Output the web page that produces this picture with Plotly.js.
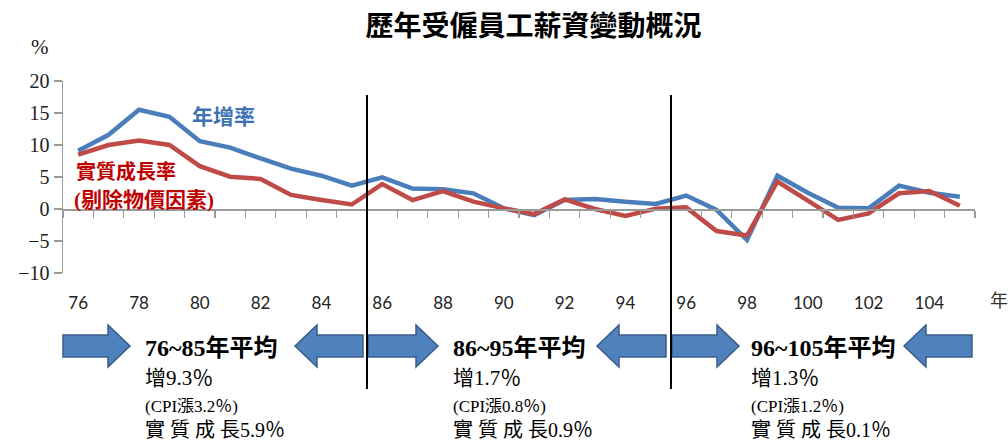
<!DOCTYPE html>
<html>
<head>
<meta charset="utf-8">
<script src="https://cdn.plot.ly/plotly-3.0.1.min.js"></script>
<style>html,body{margin:0;padding:0;background:#fff;}#chart{width:1008px;height:444px;}</style>
</head>
<body>
<div id="chart"></div>
<script>
// ---- data ----
var years = [76,77,78,79,80,81,82,83,84,85,86,87,88,89,90,91,92,93,94,95,96,97,98,99,100,101,102,103,104,105];
var wageGrowth = [9.1,11.6,15.5,14.4,10.6,9.6,7.9,6.3,5.2,3.65,4.95,3.2,3.1,2.45,0.1,-0.95,1.4,1.55,1.15,0.8,2.1,-0.15,-4.85,5.2,2.55,0.2,0.1,3.65,2.55,1.9];
var realGrowth = [8.5,10.0,10.7,10.0,6.7,5.05,4.7,2.2,1.4,0.7,3.9,1.4,2.8,1.15,0.1,-0.8,1.5,0.0,-1.1,0.05,0.25,-3.45,-4.15,4.3,1.3,-1.7,-0.7,2.45,2.8,0.5];
var tickVals = [76,78,80,82,84,86,88,90,92,94,96,98,100,102,104];
var tickLabels = ['76','78','80','82','84','86','88','90','92','94','96','98','100','102','104'];
var yTickVals = [-10,-5,0,5,10,15,20];
var periodBreaks = [85.5, 95.5];
var periodTitles = ['76~85年平均','86~95年平均','96~105年平均'];
var periodGrowth = ['增9.3％','增1.7％','增1.3％'];
var periodCPI = ['(CPI漲3.2％)','(CPI漲0.8％)','(CPI漲1.2％)'];
var periodReal = ['實 質 成 長5.9％','實 質 成 長0.9％','實 質 成 長0.1％'];

// ---- layout helpers (pixel -> paper) ----
var L = 63, R = 33, T = 81, B = 171, W = 1008, H = 444;
var PW = W - L - R, PH = H - T - B;
function px(x){ return (x - L) / PW; }
function py(y){ return (H - B - y) / PH; }

function arrowPath(x0, x1, dir){
  var ym = 346, bh = 11, hh = 21, hl = 22;
  var pts;
  if (dir > 0) {
    var xh = x1 - hl;
    pts = [[x0,ym-bh],[xh,ym-bh],[xh,ym-hh],[x1,ym],[xh,ym+hh],[xh,ym+bh],[x0,ym+bh]];
  } else {
    var xh2 = x0 + hl;
    pts = [[x1,ym-bh],[xh2,ym-bh],[xh2,ym-hh],[x0,ym],[xh2,ym+hh],[xh2,ym+bh],[x1,ym+bh]];
  }
  return 'M' + pts.map(function(p){ return px(p[0]).toFixed(5) + ',' + py(p[1]).toFixed(5); }).join(' L') + ' Z';
}

var arrows = [[63,130,1],[295,363,-1],[368,438,1],[597,666,-1],[672,739,1],[904,972,-1]];
var shapes = arrows.map(function(a){
  return {type:'path', xref:'paper', yref:'paper', path: arrowPath(a[0],a[1],a[2]),
          fillcolor:'#4F81BD', line:{color:'#385D8A', width:1.5}, layer:'above'};
});
periodBreaks.forEach(function(b){
  shapes.push({type:'line', xref:'x', yref:'paper', x0:b, x1:b, y0:py(95), y1:py(389),
               line:{color:'#000', width:2}});
});

var serif = 'Liberation Serif, Noto Sans CJK TC, serif';
var cjk = 'Noto Sans CJK TC, sans-serif';
var annotations = [
  {text:'%', xref:'paper', yref:'paper', x:px(40), y:py(47), showarrow:false, xanchor:'center', yanchor:'middle', font:{family:serif, size:21, color:'#222'}},
  {text:'年', xref:'paper', yref:'paper', x:px(988), y:py(299), showarrow:false, xanchor:'left', yanchor:'middle', font:{family:cjk, size:18, color:'#333'}},
  {text:'<b>年增率</b>', xref:'paper', yref:'paper', x:px(223), y:py(115), showarrow:false, xanchor:'center', yanchor:'middle', font:{family:cjk, size:21, color:'#3F72B5'}},
  {text:'<b>實質成長率</b>', xref:'paper', yref:'paper', x:px(74), y:py(170), showarrow:false, xanchor:'left', yanchor:'middle', font:{family:cjk, size:20, color:'#C00000'}},
  {text:'<b>(剔除物價因素)</b>', xref:'paper', yref:'paper', x:px(72), y:py(200), showarrow:false, xanchor:'left', yanchor:'middle', font:{family:serif, size:21, color:'#C00000'}}
];
var blockX = [143, 451, 749];
for (var i = 0; i < 3; i++) {
  annotations.push({text:'<b>'+periodTitles[i]+'</b>', xref:'paper', yref:'paper', x:px(blockX[i]), y:py(348), showarrow:false, xanchor:'left', yanchor:'middle', font:{family:serif, size:24, color:'#000'}});
  annotations.push({text:periodGrowth[i], xref:'paper', yref:'paper', x:px(blockX[i]), y:py(378), showarrow:false, xanchor:'left', yanchor:'middle', font:{family:serif, size:21, color:'#000'}});
  annotations.push({text:periodCPI[i], xref:'paper', yref:'paper', x:px(blockX[i]), y:py(406), showarrow:false, xanchor:'left', yanchor:'middle', font:{family:serif, size:17, color:'#000'}});
  annotations.push({text:periodReal[i], xref:'paper', yref:'paper', x:px(blockX[i]), y:py(430), showarrow:false, xanchor:'left', yanchor:'middle', font:{family:serif, size:20, color:'#000'}});
}

var traces = [
  {x: years, y: wageGrowth, type:'scatter', mode:'lines', name:'年增率', line:{color:'#4A7EBB', width:4.5}, xaxis:'x', yaxis:'y'},
  {x: years, y: realGrowth, type:'scatter', mode:'lines', name:'實質成長率', line:{color:'#BE4B48', width:4.5}, xaxis:'x', yaxis:'y'},
  {x: [years[0]], y: [null], type:'scatter', mode:'lines', showlegend:false, hoverinfo:'skip', xaxis:'x2', yaxis:'y'}
];

var layout = {
  width: W, height: H,
  margin: {l:L, r:R, t:T, b:B, pad:0},
  paper_bgcolor:'#fff', plot_bgcolor:'rgba(0,0,0,0)',
  showlegend:false,
  title: {text:'<b>歷年受僱員工薪資變動概況</b>', x:520/W, xanchor:'center', xref:'paper', y:1-26/H, yanchor:'middle', yref:'container',
          font:{family:cjk, size:28, color:'#000'}},
  xaxis: {range:[75.5,105.5], tickmode:'array', tickvals:tickVals, ticktext:tickLabels,
          showline:false, showgrid:false, zeroline:false,
          ticks:'outside', ticklen:15, tickcolor:'rgba(0,0,0,0)',
          tickfont:{family:'Lato, Liberation Sans, sans-serif', size:17, color:'#222'}},
  xaxis2: {overlaying:'x', anchor:'free', position:1/3, range:[75.5,105.5], matches:'x',
           showline:true, linecolor:'#9a9a9a', linewidth:1.5, showgrid:false, zeroline:false,
           showticklabels:false, ticks:'',
           minor:{tick0:75.5, dtick:1, ticks:'outside', ticklen:7, tickcolor:'#9a9a9a', tickwidth:1.2, showgrid:false}},
  yaxis: {range:[-10,20], tickmode:'array', tickvals:yTickVals, showline:true, linecolor:'#9a9a9a', linewidth:1.5,
          showgrid:false, zeroline:false, ticks:'outside', ticklen:8, tickcolor:'#9a9a9a', tickwidth:1.2,
          tickfont:{family:serif, size:20, color:'#222'}},
  shapes: shapes,
  annotations: annotations
};

Plotly.newPlot('chart', traces, layout, {displayModeBar:false, staticPlot:true});
</script>
</body>
</html>
